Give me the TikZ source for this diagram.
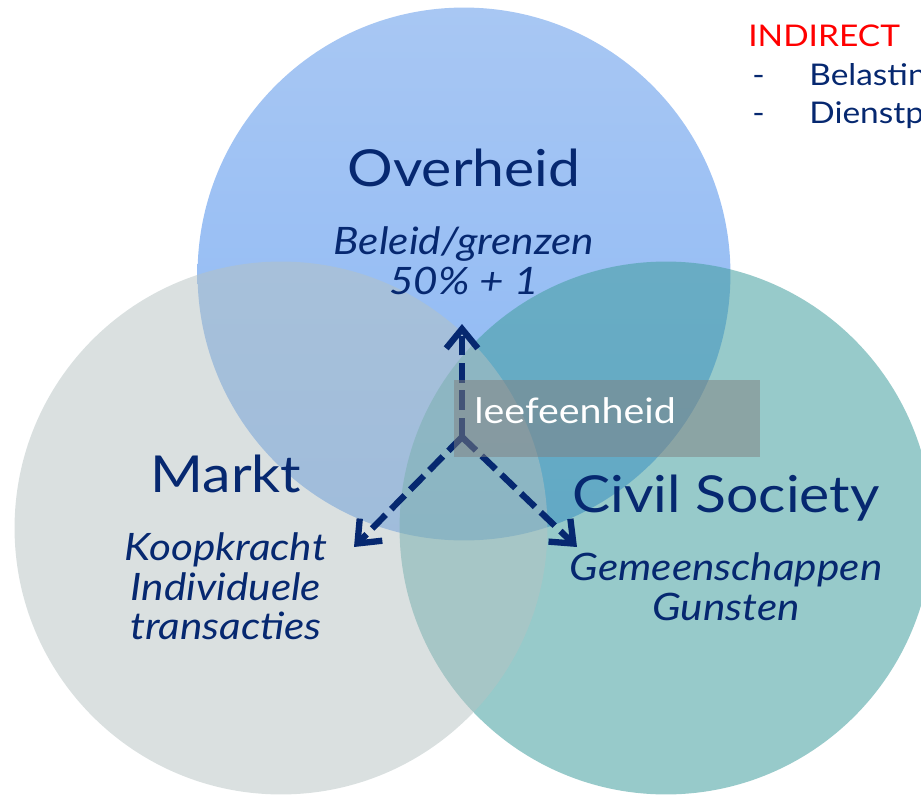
\documentclass[tikz,border=0pt]{standalone}
\usepackage{fontspec}
\setmainfont{Lato}[FakeStretch=1.12]
\usetikzlibrary{positioning,arrows.meta}
\definecolor{navy}{RGB}{6,40,112}
\definecolor{govtop}{RGB}{168,199,243}
\definecolor{govbot}{RGB}{138,183,245}
\definecolor{civfill}{RGB}{66,158,158}
\definecolor{mktfill}{RGB}{181,194,194}

\begin{document}
\begin{tikzpicture}[x=0.02cm,y=-0.02cm,
  every node/.style={inner sep=0pt},
  circ/.style={circle,minimum size=10.66cm},
  title/.style={text=navy,font=\fontsize{29}{34}\selectfont,anchor=base},
  sub/.style={text=navy,font=\itshape\fontsize{21.5}{22.7}\selectfont,align=center},
  list/.style={text=navy,font=\fontsize{17}{20}\selectfont,anchor=base west},
  to/.style={-{Straight Barb[length=11pt,width=18pt]},line width=3.6pt,
    draw=navy,dash pattern=on 11pt off 4.5pt}]

  \clip (0,0) rectangle (921,795);

  % the three circles
  \node[circ,shade,top color=govtop,bottom color=govbot] (gov) at (464,274) {};
  \node[circ,fill=civfill,fill opacity=.55] (civ) at (666,528) {};
  \node[circ,fill=mktfill,fill opacity=.5] (mkt) at (281,528) {};

  % titles
  \node[title] (overheid) at (464,186) {Overheid};
  \node[sub,below=0.8cm of overheid.base] (govsub) {Beleid/grenzen\\50\% + 1};
  \node[title] (markt) at (226,492) {Markt};
  \node[sub,below=0.8cm of markt.base] (mktsub) {Koopkracht\\Individuele\\transacties};
  \node[title] (civil) at (726,512) {Civil Society};
  \node[sub,below=0.8cm of civil.base] (civsub) {Gemeenschappen\\Gunsten};

  % arrows
  \coordinate (hub) at (462,437);
  \coordinate (tipgov) at (462,324);
  \coordinate (tipmkt) at (354,547);
  \coordinate (tipciv) at (577,547);
  \draw[to] (hub) -- (tipgov);
  \draw[to] (hub) -- (tipmkt);
  \draw[to] (hub) -- (tipciv);

  \node[fill=gray,fill opacity=.5,minimum width=6.12cm,minimum height=1.54cm,
    anchor=north west] (lbox) at (454,380) {};
  \node[text=white,font=\fontsize{20}{24}\selectfont,anchor=base west]
    (leef) at ([shift={(20,43)}]lbox.north west) {leefeenheid};

  % side note
  \node[list,text=red] (indirect) at (748,46) {INDIRECT};
  \node[list] (dash1) at (752,85) {-};
  \node[list] (belast) at (809,85) {Belastin};
  \node[list] (dash2) at (752,123) {-};
  \node[list] (dienst) at (809,123) {Dienstp};
\end{tikzpicture}
\end{document}
